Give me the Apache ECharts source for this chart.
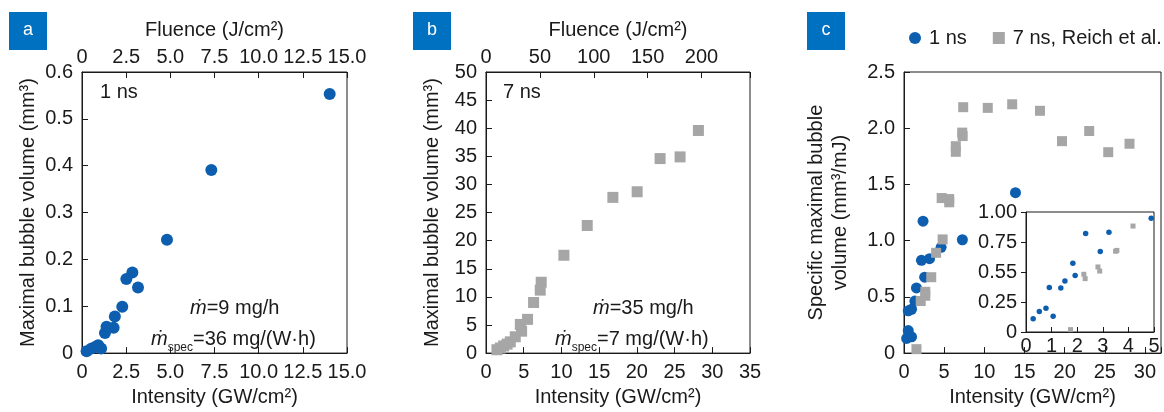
<!DOCTYPE html>
<html>
<head>
<meta charset="utf-8">
<script src="https://cdn.jsdelivr.net/npm/echarts@6/dist/echarts.min.js"></script>
<style>
html,body{margin:0;padding:0;background:#fff;}
#chart{width:1164px;height:412px;}
</style>
</head>
<body>
<div id="chart"></div>
<script>
// ---------- DATA ----------
// Panel a: 1 ns, intensity (GW/cm2) vs maximal bubble volume (mm3)
const aIntensity = [14.02, 7.32, 4.81, 2.85, 2.51, 3.17, 2.28, 1.86, 1.79, 1.39, 1.30, 0.92, 1.08, 0.54, 0.26, 0.80];
const aVolume    = [0.553, 0.391, 0.242, 0.172, 0.158, 0.140, 0.099, 0.078, 0.054, 0.056, 0.043, 0.017, 0.010, 0.010, 0.004, 0.014];
// Panel b: 7 ns
const bIntensity = [28.16, 25.73, 23.08, 20.04, 16.82, 13.42, 10.33, 7.32, 7.19, 6.31, 5.51, 4.55, 4.72, 3.88, 3.22, 2.80, 2.34, 1.90, 1.45];
const bVolume    = [39.6, 34.9, 34.6, 28.7, 27.7, 22.7, 17.4, 12.6, 11.2, 9.0, 6.0, 5.1, 3.9, 2.9, 2.0, 1.6, 1.27, 0.9, 0.6];
// Panel c main: specific maximal bubble volume (mm3/mJ)
const c1Intensity = [13.88, 7.27, 4.62, 2.37, 2.17, 3.18, 2.57, 1.55, 1.35, 0.94, 0.53, 0.53, 0.94, 0.33];
const c1Specific  = [1.427, 1.008, 0.941, 1.173, 0.825, 0.840, 0.675, 0.580, 0.463, 0.390, 0.376, 0.200, 0.145, 0.130];
const c7Intensity = [7.37, 10.43, 13.47, 16.93, 23.06, 28.08, 19.67, 25.43, 7.25, 7.30, 6.45, 6.45, 4.69, 5.63, 5.63, 4.81, 4.00, 3.39, 2.65, 2.65, 2.08, 1.55];
const c7Specific  = [2.187, 2.181, 2.213, 2.155, 1.975, 1.862, 1.885, 1.787, 1.961, 1.930, 1.840, 1.790, 1.379, 1.341, 1.370, 1.011, 0.892, 0.675, 0.545, 0.510, 0.463, 0.035];
// Panel c inset
const i1X = [4.89, 3.24, 2.33, 2.90, 1.83, 1.92, 1.52, 1.36, 0.91, 0.78, 0.52, 1.06, 0.28];
const i1Y = [0.948, 0.831, 0.820, 0.670, 0.572, 0.470, 0.425, 0.367, 0.370, 0.197, 0.170, 0.131, 0.111];
const i7X = [4.18, 3.50, 3.55, 2.88, 2.81, 2.26, 2.31, 1.74];
const i7Y = [0.883, 0.673, 0.680, 0.508, 0.542, 0.481, 0.445, 0.020];

// Tick labels
const aXTicks = ['0', '2.5', '5.0', '7.5', '10.0', '12.5', '15.0'];
const aYTicks = ['0', '0.1', '0.2', '0.3', '0.4', '0.5', '0.6'];
const bXTicks = ['0', '5', '10', '15', '20', '25', '30', '35'];
const bFluTicks = ['0', '50', '100', '150', '200'];
const bYTicks = ['0', '5', '10', '15', '20', '25', '30', '35', '40', '45', '50'];
const cXTicks = ['0', '5', '10', '15', '20', '25', '30'];
const cYTicks = ['0', '0.5', '1.0', '1.5', '2.0', '2.5'];
const insXTicks = ['0', '1', '2', '3', '4', '5'];
const insYTicks = ['0', '0.25', '0.55', '0.75', '1.00'];

const seriesNames = ['1 ns', '7 ns, Reich et al.'];
const panelLetters = ['a', 'b', 'c'];

// ---------- STYLE ----------
const BLUE = '#0d5eae';
const GRAY = '#a6a6a6';
const BOX = '#0070c0';
const INK = '#1a1a1a';
const FONT = '"Liberation Sans", Arial, sans-serif';
const FS = 20;

const zip = (xs, ys) => xs.map((x, i) => [x, ys[i]]);
const lab = (arr, step) => v => {
  const i = Math.round(v / step);
  return (Math.abs(v - i * step) < 1e-6 && arr[i] !== undefined) ? arr[i] : '';
};

const axisLine = {show: true, lineStyle: {color: INK, width: 1}};
const tickIn = {show: true, inside: true, length: 6, lineStyle: {color: INK, width: 1}};
const labStyle = {color: INK, fontSize: FS, fontFamily: FONT};
const nameStyle = {color: INK, fontSize: FS, fontFamily: FONT};

function xAx(gi, min, max, step, ticks, opts) {
  return Object.assign({
    type: 'value', gridIndex: gi, min: min, max: max, interval: step,
    axisLine: axisLine, axisTick: tickIn, splitLine: {show: false},
    axisLabel: Object.assign({formatter: lab(ticks, step), margin: 9, showMaxLabel: true}, labStyle),
    nameTextStyle: nameStyle
  }, opts || {});
}
function yAx(gi, min, max, step, ticks, opts) {
  return Object.assign({
    type: 'value', gridIndex: gi, min: min, max: max, interval: step,
    axisLine: axisLine, axisTick: tickIn, splitLine: {show: false},
    axisLabel: Object.assign({formatter: lab(ticks, step), margin: 9}, labStyle),
    nameTextStyle: nameStyle
  }, opts || {});
}

const gridBorder = {show: true, borderColor: INK, borderWidth: 1, backgroundColor: 'transparent'};

const option = {
  animation: false,
  backgroundColor: '#fff',
  textStyle: {fontFamily: FONT},
  grid: [
    Object.assign({left: 82, top: 72, width: 265, height: 288}, gridBorder),
    Object.assign({left: 486, top: 72, width: 264, height: 288}, gridBorder),
    Object.assign({left: 904, top: 72, width: 262, height: 288}, gridBorder),
    Object.assign({left: 1026, top: 212, width: 128, height: 120}, gridBorder)
  ],
  xAxis: [
    xAx(0, 0, 15, 2.5, aXTicks, {name: 'Intensity (GW/cm²)', nameLocation: 'middle', nameGap: 31}),
    xAx(0, 0, 15, 2.5, aXTicks, {position: 'top', name: 'Fluence (J/cm²)', nameLocation: 'middle', nameGap: 32,
      axisLabel: Object.assign({formatter: lab(aXTicks, 2.5), margin: 5}, labStyle)}),
    xAx(1, 0, 35, 5, bXTicks, {name: 'Intensity (GW/cm²)', nameLocation: 'middle', nameGap: 31}),
    xAx(1, 0, 245, 50, bFluTicks, {position: 'top', name: 'Fluence (J/cm²)', nameLocation: 'middle', nameGap: 32,
      axisLabel: Object.assign({formatter: lab(bFluTicks, 50), margin: 5}, labStyle)}),
    xAx(2, 0, 32, 5, cXTicks, {name: 'Intensity (GW/cm²)', nameLocation: 'middle', nameGap: 31}),
    xAx(3, 0, 5, 1, insXTicks, {axisTick: {show: true, inside: true, length: 5, lineStyle: {color: INK}},
      axisLabel: Object.assign({formatter: lab(insXTicks, 1), margin: 4}, labStyle)})
  ],
  yAxis: [
    yAx(0, 0, 0.6, 0.1, aYTicks, {name: 'Maximal bubble volume (mm³)', nameLocation: 'middle', nameGap: 44}),
    yAx(1, 0, 50, 5, bYTicks, {name: 'Maximal bubble volume (mm³)', nameLocation: 'middle', nameGap: 44}),
    yAx(2, 0, 2.5, 0.5, cYTicks, {name: 'Specific maximal bubble\nvolume (mm³/mJ)', nameLocation: 'middle', nameGap: 52,
      nameTextStyle: Object.assign({lineHeight: 24}, nameStyle)}),
    yAx(3, 0, 1, 0.25, insYTicks, {axisTick: {show: true, inside: false, length: 5, lineStyle: {color: INK}},
      axisLabel: Object.assign({formatter: lab(insYTicks, 0.25), margin: 9}, labStyle)})
  ],
  legend: {
    data: [{name: seriesNames[0], icon: 'circle'}, {name: seriesNames[1], icon: 'rect'}],
    left: 909, top: 28, padding: 0, itemWidth: 12, itemHeight: 12, itemGap: 26,
    textStyle: {color: INK, fontSize: FS, fontFamily: FONT, padding: [0, 0, 0, 3]},
    selectedMode: false
  },
  series: [
    {type: 'scatter', name: 'a 1 ns', xAxisIndex: 0, yAxisIndex: 0, symbol: 'circle', symbolSize: 12,
      itemStyle: {color: BLUE, opacity: 1}, data: zip(aIntensity, aVolume)},
    {type: 'scatter', name: 'b 7 ns', xAxisIndex: 2, yAxisIndex: 1, symbol: 'rect', symbolSize: 11,
      itemStyle: {color: GRAY, opacity: 1}, data: zip(bIntensity, bVolume)},
    {type: 'scatter', name: seriesNames[0], xAxisIndex: 4, yAxisIndex: 2, symbol: 'circle', symbolSize: 11,
      itemStyle: {color: BLUE, opacity: 1}, data: zip(c1Intensity, c1Specific)},
    {type: 'scatter', name: seriesNames[1], xAxisIndex: 4, yAxisIndex: 2, symbol: 'rect', symbolSize: 10,
      itemStyle: {color: GRAY, opacity: 1}, data: zip(c7Intensity, c7Specific)},
    {type: 'scatter', name: 'inset 1 ns', xAxisIndex: 5, yAxisIndex: 3, symbol: 'circle', symbolSize: 5.5,
      itemStyle: {color: BLUE, opacity: 1}, data: zip(i1X, i1Y)},
    {type: 'scatter', name: 'inset 7 ns', xAxisIndex: 5, yAxisIndex: 3, symbol: 'rect', symbolSize: 5,
      itemStyle: {color: GRAY, opacity: 1}, data: zip(i7X, i7Y)}
  ],
  graphic: []
};

// Panel letter boxes
const boxX = [9, 413, 807];
panelLetters.forEach((L, i) => {
  option.graphic.push({type: 'rect', left: boxX[i], top: 12, shape: {width: 38, height: 38}, style: {fill: BOX}, z: 10});
  option.graphic.push({type: 'text', x: boxX[i] + 19, y: 30, z: 11,
    style: {text: L, fill: '#fff', fontSize: 18, fontFamily: FONT, align: 'center', verticalAlign: 'middle'}});
});

// In-plot annotations
function plain(x, y, t) {
  option.graphic.push({type: 'text', x: x, y: y, z: 11,
    style: {text: t, fill: INK, fontSize: FS, fontFamily: FONT, align: 'left', verticalAlign: 'middle'}});
}
function mdot(x, y, rest) {
  option.graphic.push({type: 'text', x: x, y: y, z: 11,
    style: {text: '{m|ṁ}{t|' + rest + '}', fill: INK, fontSize: FS, fontFamily: FONT, align: 'left', verticalAlign: 'middle',
      rich: {m: {fontStyle: 'italic', fontSize: FS, fontFamily: FONT, fill: INK},
             t: {fontSize: FS, fontFamily: FONT, fill: INK}}}});
}
function mspec(x, y, rest) {
  option.graphic.push({type: 'text', x: x, y: y, z: 11,
    style: {text: '{m|ṁ}{s|spec}{t|' + rest + '}', fill: INK, fontSize: FS, fontFamily: FONT, align: 'left', verticalAlign: 'middle',
      rich: {m: {fontStyle: 'italic', fontSize: FS, lineHeight: 30, fontFamily: FONT, fill: INK},
             s: {fontSize: 12, lineHeight: 9, verticalAlign: 'bottom', fontFamily: FONT, fill: INK},
             t: {fontSize: FS, lineHeight: 30, fontFamily: FONT, fill: INK}}}});
}
plain(100, 92, '1 ns');
plain(503, 92, '7 ns');
mdot(190, 308, '=9 mg/h');
mspec(151, 339, '=36 mg/(W·h)');
mdot(593, 308, '=35 mg/h');
mspec(555, 339, '=7 mg/(W·h)');

const chart = echarts.init(document.getElementById('chart'), null, {renderer: 'canvas'});
chart.setOption(option);
</script>
</body>
</html>
